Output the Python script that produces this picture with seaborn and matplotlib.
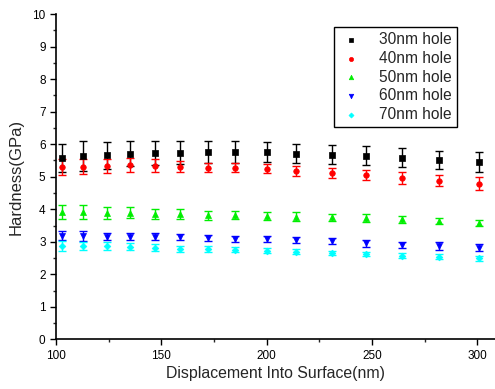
import seaborn as sns
from matplotlib import pyplot as plt
from matplotlib.ticker import MultipleLocator

# displacement (nm) shared by all series
displacement = [103, 113, 124, 135, 147, 159, 172, 185, 200, 214, 231, 247, 264, 282, 301]

h30 = [5.57, 5.64, 5.66, 5.71, 5.74, 5.74, 5.75, 5.75, 5.75, 5.71, 5.68, 5.65, 5.59, 5.52, 5.46]
e30 = [0.43, 0.47, 0.42, 0.39, 0.37, 0.35, 0.34, 0.34, 0.31, 0.29, 0.29, 0.29, 0.28, 0.28, 0.30]

h40 = [5.30, 5.31, 5.33, 5.36, 5.33, 5.31, 5.28, 5.28, 5.24, 5.18, 5.11, 5.05, 4.96, 4.88, 4.79]
e40 = [0.26, 0.23, 0.22, 0.21, 0.20, 0.18, 0.15, 0.13, 0.14, 0.15, 0.15, 0.15, 0.17, 0.18, 0.20]

h50 = [3.92, 3.91, 3.89, 3.89, 3.86, 3.85, 3.82, 3.82, 3.79, 3.77, 3.75, 3.73, 3.69, 3.64, 3.57]
e50 = [0.22, 0.21, 0.19, 0.17, 0.16, 0.15, 0.14, 0.13, 0.12, 0.13, 0.11, 0.11, 0.10, 0.10, 0.10]

h60 = [3.19, 3.18, 3.16, 3.16, 3.16, 3.14, 3.11, 3.09, 3.08, 3.05, 3.02, 2.95, 2.90, 2.87, 2.82]
e60 = [0.14, 0.15, 0.12, 0.12, 0.10, 0.09, 0.09, 0.09, 0.10, 0.10, 0.10, 0.10, 0.10, 0.11, 0.11]

h70 = [2.87, 2.87, 2.87, 2.85, 2.82, 2.79, 2.77, 2.75, 2.73, 2.69, 2.66, 2.62, 2.57, 2.54, 2.49]
e70 = [0.14, 0.13, 0.12, 0.11, 0.10, 0.09, 0.09, 0.08, 0.08, 0.08, 0.07, 0.07, 0.07, 0.07, 0.07]

labels = ['30nm hole', '40nm hole', '50nm hole', '60nm hole', '70nm hole']

sns.set_style("ticks")
plt.rcParams['font.family'] = ['Liberation Sans', 'DejaVu Sans']
plt.rcParams['xtick.direction'] = 'out'
plt.rcParams['ytick.direction'] = 'out'

fig = plt.figure(figsize=(4.95, 3.89), dpi=100)
ax = fig.add_axes([0.1131, 0.1277, 0.887, 0.836])

series = [
    (h30, e30, 'black', 's', 3.8),
    (h40, e40, 'red', 'o', 4.0),
    (h50, e50, '#00ee00', '^', 4.3),
    (h60, e60, 'blue', 'v', 4.3),
    (h70, e70, 'cyan', 'D', 3.4),
]
for (vals, errs, color, marker, ms), label in zip(series, labels):
    ax.errorbar(displacement, vals, yerr=errs, fmt='none', ecolor=color,
                elinewidth=1.0, capsize=3, capthick=1.0)
    sns.scatterplot(x=displacement, y=vals, ax=ax, color=color, marker=marker,
                    s=ms ** 2, edgecolor=color, linewidth=0.5, label=label, zorder=3)

ax.set_xlim(100, 308.4)
ax.set_ylim(0, 10)
ax.xaxis.set_major_locator(MultipleLocator(50))
ax.xaxis.set_minor_locator(MultipleLocator(25))
ax.yaxis.set_major_locator(MultipleLocator(1))
ax.yaxis.set_minor_locator(MultipleLocator(0.5))
ax.tick_params(which='major', length=4, width=1, labelsize=8.5, colors='black')
ax.tick_params(which='minor', length=2.5, width=1)
sns.despine(ax=ax)
for sp in ['left', 'bottom']:
    ax.spines[sp].set_linewidth(1.2)
    ax.spines[sp].set_color('black')

ax.set_xlabel('Displacement Into Surface(nm)', fontsize=11.4, labelpad=3)
ax.set_ylabel('Hardness(GPa)', fontsize=12, labelpad=6)

leg = ax.legend(loc='upper right', bbox_to_anchor=(0.913, 0.96), borderaxespad=0,
                fontsize=11.2, frameon=True, fancybox=False, edgecolor='black',
                framealpha=1, handletextpad=1.0, labelspacing=0.25, borderpad=0.3,
                handlelength=1.6, markerscale=0.75)
leg.get_frame().set_linewidth(1.0)

fig.savefig('out.png', dpi=100)
